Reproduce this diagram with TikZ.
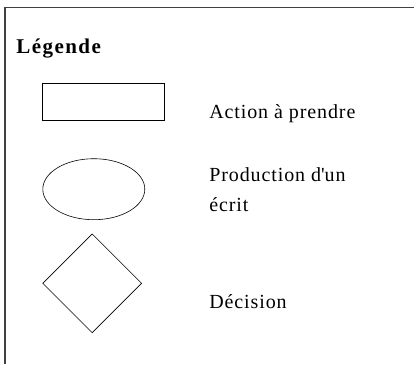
\documentclass[tikz,border=0pt]{standalone}
\usepackage{fontspec}
\setmainfont[LetterSpace=4.5]{Liberation Serif}
\usetikzlibrary{shapes.geometric}

\tikzstyle{action} = [rectangle, draw, inner sep=0mm, minimum width=121.5pt, minimum height=37.5pt]
\tikzstyle{ecrit} = [ellipse, draw, inner sep=0mm, minimum width=102pt, minimum height=61pt]
\tikzstyle{decision} = [diamond, draw, inner sep=0mm, minimum size=99pt]
\tikzstyle{label} = [anchor=base west, inner sep=0mm, align=left, font=\fontsize{20}{30}\selectfont]

\begin{document}
\begin{tikzpicture}[x=1pt, y=-1pt, line width=.6pt]
		\useasboundingbox (0,0) rectangle (414,364);
		%\draw[help lines] (0,0) grid[step=50] (414,364);
		
		% cadre
		\coordinate (bl) at (5,364);
		\coordinate (tl) at (5,7.5);
		\coordinate (tr) at (414,7.5);
		\draw[line width=1.3pt, black!75] (bl) -- (tl) -- (tr);
		
		\node[anchor=base west, inner sep=0mm, font=\bfseries\fontsize{21}{21}\selectfont\addfontfeature{LetterSpace=7}] (titre) at (16,53) {Légende};
		
		\node[action] (rect) at (103.5,102) {};
		\node[ecrit] (ell) at (93.8,189.2) {};
		\node[decision] (losange) at (92.2,283.3) {};
		
		\node[label] (t_action) at (209,118) {Action à prendre};
		% base = derniere ligne
		\node[label] (t_ecrit) at (209,211) {Production d\textquotesingle un\\écrit};
		\node[label] (t_decision) at (209,308.5) {Décision};
		
	\end{tikzpicture}
\end{document}
